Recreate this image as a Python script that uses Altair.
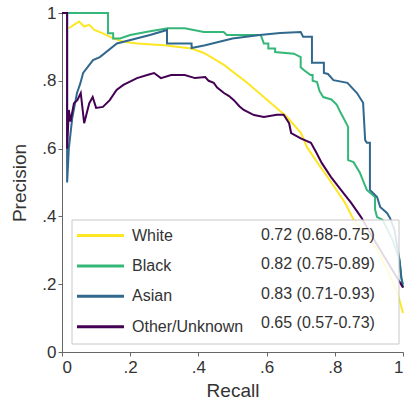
import altair as alt
import pandas as pd

GROUPS = ["White", "Black", "Asian", "Other/Unknown"]
AUC_TEXT = ["0.72 (0.68-0.75)", "0.82 (0.75-0.89)", "0.83 (0.71-0.93)", "0.65 (0.57-0.73)"]
COLORS = ["#fde725", "#35b779", "#31688e", "#440154"]
TICKS = [0, 0.2, 0.4, 0.6, 0.8, 1]

WHITE_R = [0.02, 0.035, 0.05, 0.065, 0.08, 0.095, 0.12, 0.15, 0.18, 0.22, 0.30, 0.38,
           0.416, 0.475, 0.543, 0.613, 0.66, 0.701, 0.718, 0.75, 0.79, 0.83, 0.855,
           0.90, 0.93, 0.96, 0.985, 1.0]
WHITE_P = [0.955, 0.965, 0.975, 0.96, 0.965, 0.95, 0.94, 0.925, 0.915, 0.91, 0.905, 0.895,
           0.882, 0.847, 0.794, 0.734, 0.693, 0.646, 0.605, 0.557, 0.50, 0.44, 0.39,
           0.34, 0.29, 0.23, 0.17, 0.115]

BLACK_R = [0.0, 0.135, 0.135, 0.150, 0.150, 0.17, 0.2, 0.25, 0.31, 0.36, 0.416, 0.474,
           0.483, 0.583, 0.592, 0.605, 0.605, 0.625, 0.625, 0.68, 0.70, 0.70, 0.709,
           0.729, 0.735, 0.735, 0.748, 0.755, 0.766, 0.79, 0.806, 0.815, 0.824, 0.839,
           0.839, 0.855, 0.874, 0.885, 0.894, 0.918, 0.918, 0.924, 0.94, 0.955, 0.97,
           0.98, 0.99, 0.995, 1.0]
BLACK_P = [1.0, 1.0, 0.94, 0.94, 0.925, 0.925, 0.935, 0.945, 0.955, 0.955, 0.944, 0.944,
           0.935, 0.935, 0.91, 0.91, 0.895, 0.895, 0.885, 0.88, 0.87, 0.84, 0.832,
           0.817, 0.817, 0.80, 0.796, 0.77, 0.752, 0.745, 0.729, 0.71, 0.693, 0.664,
           0.566, 0.56, 0.528, 0.50, 0.478, 0.457, 0.42, 0.398, 0.39, 0.36, 0.33,
           0.30, 0.27, 0.22, 0.20]

ASIAN_R = [0.0, 0.015, 0.015, 0.02, 0.03, 0.044, 0.053, 0.062, 0.091, 0.111, 0.161,
           0.258, 0.308, 0.308, 0.38, 0.38, 0.42, 0.5, 0.58, 0.64, 0.70, 0.707, 0.733,
           0.733, 0.768, 0.768, 0.78, 0.796, 0.837, 0.85, 0.865, 0.883, 0.889, 0.894, 0.903,
           0.903, 0.924, 0.933, 0.953, 0.962, 0.975, 0.985, 0.99, 0.995, 1.0]
ASIAN_P = [1.0, 1.0, 0.5, 0.6, 0.69, 0.764, 0.79, 0.823, 0.861, 0.87, 0.91,
           0.935, 0.95, 0.91, 0.91, 0.897, 0.905, 0.925, 0.935, 0.941, 0.944, 0.93, 0.93,
           0.853, 0.853, 0.823, 0.82, 0.802, 0.794, 0.78, 0.764, 0.735, 0.625, 0.617, 0.617,
           0.478, 0.457, 0.428, 0.41, 0.395, 0.36, 0.30, 0.27, 0.22, 0.19]

OTHER_R = [0.0, 0.015, 0.015, 0.02, 0.025, 0.035, 0.045, 0.055, 0.065, 0.08, 0.09, 0.10,
           0.12, 0.14, 0.16, 0.18, 0.22, 0.25, 0.27, 0.29, 0.32, 0.36, 0.39, 0.42, 0.43,
           0.445, 0.455, 0.475, 0.49, 0.504, 0.52, 0.533, 0.563, 0.592, 0.63, 0.65, 0.666,
           0.672, 0.70, 0.73, 0.745, 0.762, 0.789, 0.818, 0.848, 0.877, 0.91, 0.94, 0.97,
           1.0]
OTHER_P = [1.0, 1.0, 0.6, 0.714, 0.68, 0.734, 0.743, 0.764, 0.675, 0.734, 0.752, 0.72,
           0.723, 0.743, 0.773, 0.788, 0.808, 0.817, 0.823, 0.808, 0.817, 0.817, 0.808, 0.811,
           0.80, 0.794, 0.78, 0.764, 0.755, 0.743, 0.725, 0.714, 0.699, 0.693, 0.70, 0.70,
           0.675, 0.646, 0.63, 0.617, 0.59, 0.557, 0.516, 0.478, 0.44, 0.398, 0.34, 0.29,
           0.24, 0.19]

SERIES = [(WHITE_R, WHITE_P), (BLACK_R, BLACK_P), (ASIAN_R, ASIAN_P), (OTHER_R, OTHER_P)]

rows = []
for g, auc, (rs, ps) in zip(GROUPS, AUC_TEXT, SERIES):
    for i, (r, p) in enumerate(zip(rs, ps)):
        rows.append({"group": g, "auc": auc, "recall": r, "precision": p, "i": i})
df = pd.DataFrame(rows)

FONT = "Liberation Sans"
label_expr = "datum.value == 0 ? '0' : datum.value == 1 ? '1' : '.' + round(datum.value * 10)"

axis_common = dict(values=TICKS, labelExpr=label_expr, grid=False, labelFontSize=17,
                   titleFontSize=19, titleFontWeight="normal", labelColor="#333",
                   titleColor="#333", domainColor="#666", tickColor="#666", tickSize=4,
                   labelFont=FONT, titleFont=FONT)

lines = alt.Chart(df).mark_line(strokeJoin="miter").encode(
    x=alt.X("recall:Q", scale=alt.Scale(domain=[0, 1], nice=False),
            axis=alt.Axis(title="Recall", labelPadding=3, titlePadding=6, **axis_common)),
    y=alt.Y("precision:Q", scale=alt.Scale(domain=[0, 1], nice=False),
            axis=alt.Axis(title="Precision", labelPadding=2, titlePadding=12, **axis_common)),
    color=alt.Color("group:N", scale=alt.Scale(domain=GROUPS, range=COLORS),
                    legend=alt.Legend(title=None, orient="none", legendX=25, legendY=209,
                                      symbolType="M-2,0H2", symbolSize=552,
                                      symbolStrokeWidth=3, labelFontSize=16, labelFont=FONT,
                                      labelColor="#333", labelOffset=18, rowPadding=8.4,
                                      padding=0, labelLimit=300)),
    strokeWidth=alt.StrokeWidth("auc:O", scale=alt.Scale(domain=AUC_TEXT, range=[2, 2, 2, 2]),
                                legend=alt.Legend(title=None, orient="none", legendX=173,
                                                  legendY=209, symbolType="M-2,0H2",
                                                  symbolSize=552, symbolOpacity=0,
                                                  symbolStrokeColor="transparent",
                                                  labelFontSize=16, labelFont=FONT,
                                                  labelColor="#333", labelOffset=0,
                                                  rowPadding=8.4, padding=0, labelLimit=300)),
    order="i:Q",
)

box = alt.Chart(pd.DataFrame({"k": [0]})).mark_rect(
    fill="white", fillOpacity=0.85, stroke="#c8c8c8", strokeWidth=1
).encode(x=alt.value(10), x2=alt.value(337), y=alt.value(207), y2=alt.value(331))

chart = alt.layer(lines, box).properties(
    width=341, height=339,
    autosize=alt.AutoSizeParams(type="none"),
    padding={"left": 62, "top": 13, "right": 5, "bottom": 52},
    background="white",
).configure_view(strokeWidth=0)

chart.save("out.html", embed_options={"renderer": "svg", "actions": False})
